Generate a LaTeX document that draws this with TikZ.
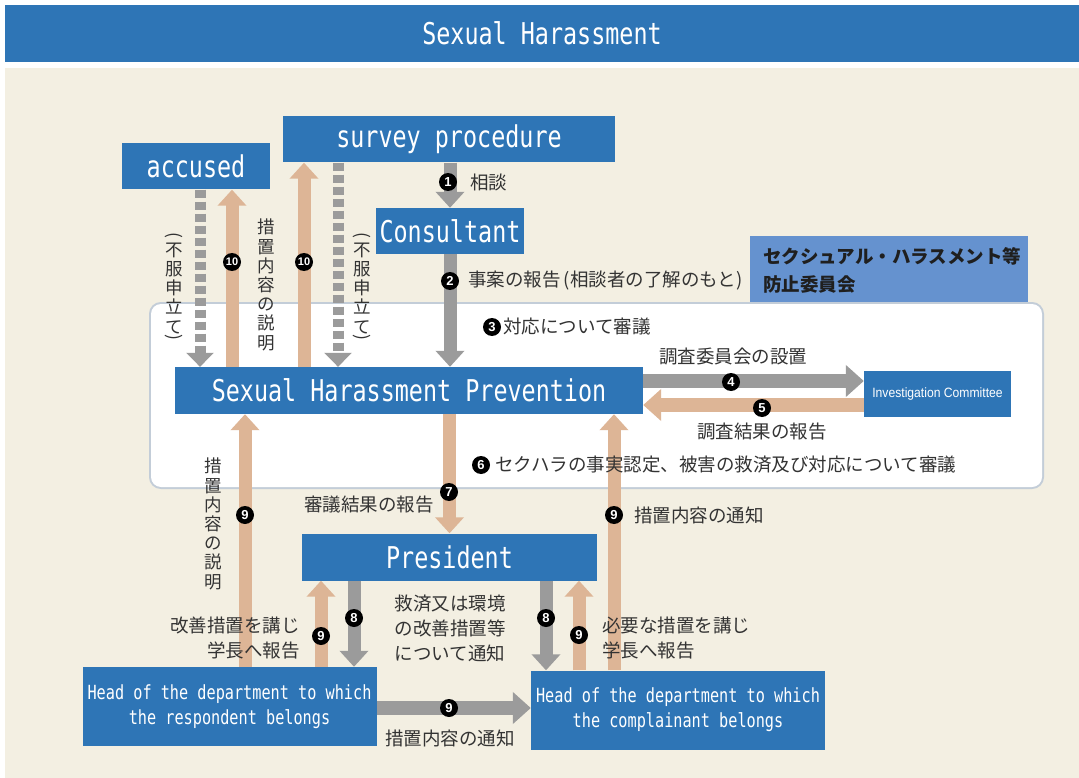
\documentclass[tikz,border=0pt]{standalone}
\usepackage{fontspec}
\usepackage{graphicx}
\usetikzlibrary{arrows.meta}
\newfontfamily\jp{Noto Sans CJK JP}
\newfontfamily\mono[FakeStretch=0.78]{DejaVu Sans Mono}
\newfontfamily\narrowf[FakeStretch=0.9]{Liberation Sans}
\newfontfamily\badgef{Liberation Sans}
\definecolor{hblue}{HTML}{2E75B6}
\definecolor{lblue}{HTML}{6592CF}
\definecolor{beige}{HTML}{F3EFE2}
\definecolor{agray}{HTML}{9B9B9B}
\definecolor{atan}{HTML}{DDB596}
\definecolor{txt}{HTML}{333333}
\definecolor{shadowc}{HTML}{C3CDD8}
\newcommand{\vparL}{\rotatebox[origin=c]{-90}{(}}
\newcommand{\vparR}{\rotatebox[origin=c]{-90}{)}}
\tikzset{
  box/.style={fill=hblue, text=white, inner sep=0pt, font=\mono\fontsize{30}{30}\selectfont},
  headbox/.style={box, align=center, font=\mono\fontsize{19.5}{25}\selectfont, minimum width=294pt, minimum height=79pt},
  garrow/.style={draw=agray, line width=13pt, -{Triangle[length=16pt,width=28pt]}},
  tarrow/.style={draw=atan, line width=13pt, -{Triangle[length=16pt,width=28pt]}},
  harrow/.style={line width=14pt, -{Triangle[length=18pt,width=31pt]}},
  dgarrow/.style={draw=agray, line width=11pt, dash pattern=on 8pt off 4pt, -{Triangle[length=14pt,width=27pt]}},
  badge/.style={circle, fill=black, text=white, inner sep=0pt, minimum size=18pt, font=\badgef\bfseries\fontsize{13}{13}\selectfont},
  badgeten/.style={badge, font=\badgef\bfseries\fontsize{11}{11}\selectfont},
  jl/.style={text=txt, inner sep=0pt, font=\jp\fontsize{18.5}{25}\selectfont},
  jv/.style={text=txt, inner sep=0pt, align=center, font=\jp\fontsize{17.5}{19.2}\selectfont},
}
\begin{document}
\begin{tikzpicture}[x=1pt,y=-1pt]
\useasboundingbox (0,0) rectangle (1079,778);
\fill[white] (0,0) rectangle (1079,778);
% title and background
\node[box, minimum width=1074pt, minimum height=57pt] (title) at (542,33.5) {Sexual Harassment};
\fill[beige] (5,68) rectangle (1079,778);
% committee label and white panel
\node[fill=lblue, minimum width=278pt, minimum height=66pt, inner sep=0pt] (comlabel) at (889,269) {};
\node[anchor=west, inner sep=0pt, align=left, text=black!88, font=\jp\bfseries\fontsize{18.5}{28}\selectfont] (comtext) at (763,270) {セクシュアル・ハラスメント等\\防止委員会};
\draw[shadowc, line width=4pt, rounded corners=10pt] (151,304) rectangle (1042,487);
\fill[white, rounded corners=10pt] (151,304) rectangle (1042,487);
% boxes
\node[box, minimum width=332pt, minimum height=46pt] (survey) at (449,139.5) {survey procedure};
\node[box, minimum width=148pt, minimum height=46pt] (accused) at (196,166.5) {accused};
\node[box, minimum width=148pt, minimum height=46pt] (consult) at (450,231) {Consultant};
\node[box, minimum width=468pt, minimum height=47pt] (prev) at (409,390.5) {Sexual Harassment Prevention};
\node[box, minimum width=147pt, minimum height=46pt, font=\narrowf\fontsize{13.5}{14}\selectfont] (invest) at (937.5,394) {Investigation Committee};
\node[box, minimum width=295pt, minimum height=47pt] (pres) at (449.5,557) {President};
\node[headbox] (resp) at (229.5,706.5) {Head of the department to which\\the respondent belongs};
\node[headbox] (comp) at (678,710) {Head of the department to which\\the complainant belongs};
% x / y guides
\coordinate (cA) at (200,0);
\coordinate (cB) at (232,0);
\coordinate (cC) at (304,0);
\coordinate (cD) at (338,0);
\coordinate (cE) at (245,0);
\coordinate (cF) at (614,0);
\coordinate (cG) at (354,0);
\coordinate (cH) at (321,0);
\coordinate (cI) at (546,0);
\coordinate (cJ) at (579,0);
\coordinate (r1) at (0,381);
\coordinate (r2) at (0,405);
\coordinate (r3) at (0,708);
% arrows
\draw[dgarrow] (accused.south -| cA) -- (prev.north -| cA);
\draw[tarrow] (prev.north -| cB) -- (accused.south -| cB);
\draw[tarrow] (prev.north -| cC) -- (survey.south -| cC);
\draw[dgarrow] (survey.south -| cD) -- (prev.north -| cD);
\draw[garrow] (survey.south -| consult) -- (consult.north);
\draw[garrow] (consult.south) -- (prev.north -| consult);
\draw[garrow, harrow] (prev.east |- r1) -- (invest.west |- r1);
\draw[tarrow, harrow] (invest.west |- r2) -- (prev.east |- r2);
\draw[tarrow] (prev.south -| pres) -- (pres.north);
\draw[tarrow] (resp.north -| cE) -- (prev.south -| cE);
\draw[tarrow] (comp.north -| cF) -- (prev.south -| cF);
\draw[garrow] (pres.south -| cG) -- (resp.north -| cG);
\draw[tarrow] (resp.north -| cH) -- (pres.south -| cH);
\draw[garrow] (pres.south -| cI) -- (comp.north -| cI);
\draw[tarrow] (comp.north -| cJ) -- (pres.south -| cJ);
\draw[garrow, harrow] (resp.east |- r3) -- (comp.west |- r3);
% badges
\node[badge] (b1) at (448,182) {1};
\node[badge] (b2) at (450,281) {2};
\node[badge] (b3) at (492,327) {3};
\node[badge] (b4) at (731,382) {4};
\node[badge] (b5) at (762,408) {5};
\node[badge] (b6) at (481,465) {6};
\node[badge] (b7) at (449,492) {7};
\node[badge] (b9a) at (245,515) {9};
\node[badge] (b9b) at (614,515) {9};
\node[badgeten] (b10a) at (232,262) {10};
\node[badgeten] (b10b) at (304,262) {10};
\node[badge] (b8a) at (354,618) {8};
\node[badge] (b9c) at (321,636) {9};
\node[badge] (b8b) at (546,618) {8};
\node[badge] (b9d) at (579,635) {9};
\node[badge] (b9e) at (449,708) {9};
% labels
\node[jl, anchor=west] (l1) at (470,182) {相談};
\node[jl, anchor=west] (l2) at (468,281) {事案の報告\,(相談者の了解のもと)};
\node[jl, anchor=west] (l3) at (503,327) {対応について審議};
\node[jl] (l4) at (733,357) {調査委員会の設置};
\node[jl] (l5) at (762,432) {調査結果の報告};
\node[jl, anchor=west] (l6) at (495,465) {セクハラの事実認定、被害の救済及び対応について審議};
\node[jl] (l7) at (369,505) {審議結果の報告};
\node[jl, anchor=west] (l9b) at (634,515) {措置内容の通知};
\node[jl, align=right, anchor=east] (l9c) at (300,638) {改善措置を講じ\\学長へ報告};
\node[jl, align=center] (l8) at (450,628) {救済又は環境\\の改善措置等\\について通知};
\node[jl, align=left, anchor=west] (l9d) at (602,638) {必要な措置を講じ\\学長へ報告};
\node[jl] (l9e) at (450,738) {措置内容の通知};
% vertical labels
\node[jv] (v1) at (174,288) {\vparL\\[-4pt]不\\服\\申\\立\\て\\[-9pt]\vparR};
\node[jv] (v2) at (362,288) {\vparL\\[-4pt]不\\服\\申\\立\\て\\[-9pt]\vparR};
\node[jv] (v3) at (266,285) {措\\置\\内\\容\\の\\説\\明};
\node[jv] (v4) at (213,524) {措\\置\\内\\容\\の\\説\\明};
\end{tikzpicture}
\end{document}
